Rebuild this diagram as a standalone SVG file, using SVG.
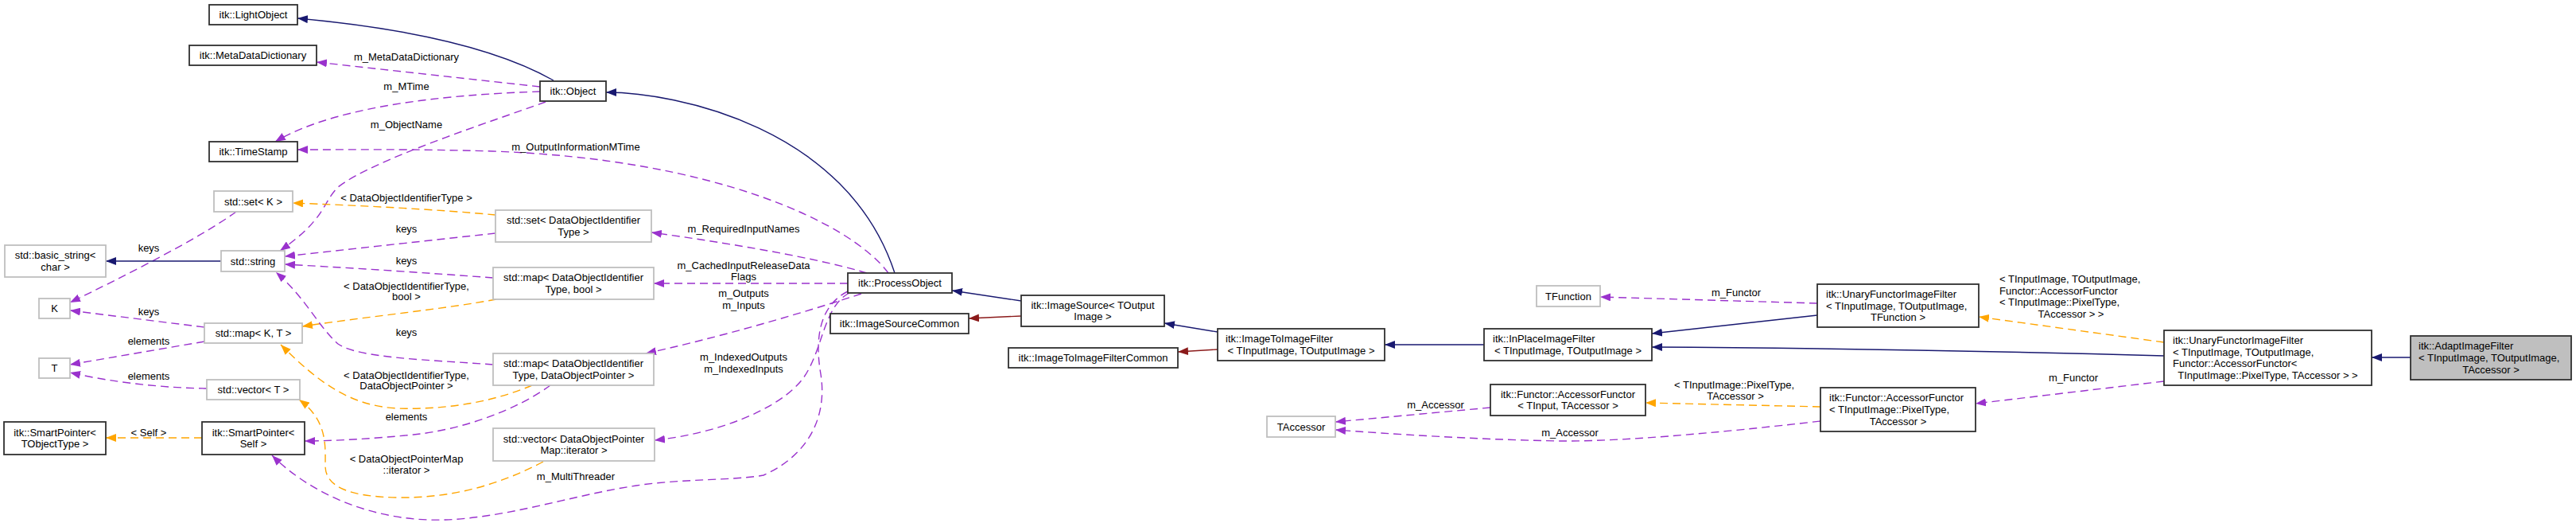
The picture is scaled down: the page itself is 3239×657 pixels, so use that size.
<svg xmlns="http://www.w3.org/2000/svg" width="3239" height="657" viewBox="0 0 3239 657">
<style>
text{font-family:"Liberation Sans",Arial,Helvetica,sans-serif;font-size:13px;fill:#000}
.m{text-anchor:middle}
.s{text-anchor:start}
.b rect{fill:#fff;stroke:#303030;stroke-width:1.8}
.g rect{fill:#fff;stroke:#bfbfbf;stroke-width:1.8}
.sel rect{fill:#bfbfbf;stroke:#303030;stroke-width:1.8}
.c path{fill:none;stroke-width:1.4}
.c .nv{stroke:#191970;marker-end:url(#aN)}
.c .fr{stroke:#8b1a1a;marker-end:url(#aF)}
.c .pu{stroke:#9a32cd;stroke-dasharray:10,6;marker-end:url(#aP)}
.c .or{stroke:#ffa500;stroke-dasharray:10,6;marker-end:url(#aO)}
</style>
<defs>
<marker id="aN" markerUnits="userSpaceOnUse" markerWidth="13" markerHeight="10" refX="13" refY="5" orient="auto"><path d="M0,0 L13,5 L0,10 z" fill="#191970"/></marker>
<marker id="aF" markerUnits="userSpaceOnUse" markerWidth="13" markerHeight="10" refX="13" refY="5" orient="auto"><path d="M0,0 L13,5 L0,10 z" fill="#8b1a1a"/></marker>
<marker id="aP" markerUnits="userSpaceOnUse" markerWidth="13" markerHeight="10" refX="13" refY="5" orient="auto"><path d="M0,0 L13,5 L0,10 z" fill="#9a32cd"/></marker>
<marker id="aO" markerUnits="userSpaceOnUse" markerWidth="13" markerHeight="10" refX="13" refY="5" orient="auto"><path d="M0,0 L13,5 L0,10 z" fill="#ffa500"/></marker>
</defs>
<rect width="3239" height="657" fill="#fff"/>

<g id="connectors" class="c">
<path class="nv" d="M696,101 C650,75 560,40 374,23"/>
<path class="pu" d="M679,109 L398,78"/>
<path class="pu" d="M679,115 C590,118 430,128 346,178"/>
<path class="pu" d="M686,128 C620,152 470,200 425,235 C405,255 410,275 352,315"/>
<path class="pu" d="M1117,343 C1070,280 900,200 620,190 C520,187 450,188 374,188"/>
<path class="pu" d="M1090,343 C1040,328 950,310 819,292"/>
<path class="pu" d="M1066,356 L822,356"/>
<path class="pu" d="M1083,369 C1040,383 930,418 812,444"/>
<path class="pu" d="M1068,368 C1035,385 1035,440 1010,475 C980,515 900,545 823,553"/>
<path class="pu" d="M1066,366 C1028,385 1025,430 1032,470 C1040,520 1020,570 960,597 C920,604 860,601 800,610 C720,622 640,650 560,653 C470,656 390,620 342,572"/>
<path class="or" d="M623,270 C550,263 450,258 368,255"/>
<path class="pu" d="M623,293 L358,322"/>
<path class="pu" d="M297,266 C250,300 150,350 88,380"/>
<path class="nv" d="M278,328 L133,328"/>
<path class="pu" d="M620,349 C540,343 450,337 358,332"/>
<path class="or" d="M624,376 C560,388 460,398 380,410"/>
<path class="pu" d="M257,411 L88,390"/>
<path class="pu" d="M257,429 L88,458"/>
<path class="pu" d="M260,488 C200,487 140,480 88,468"/>
<path class="or" d="M254,550 L133,550"/>
<path class="pu" d="M620,458 C540,452 450,450 425,432 C400,410 385,375 347,342"/>
<path class="or" d="M669,484 C620,505 560,515 500,513 C440,510 400,480 353,433"/>
<path class="pu" d="M692,484 C650,515 580,540 520,546 C470,551 420,554 383,554"/>
<path class="or" d="M683,580 C630,608 570,626 500,625 C440,624 409,612 409,585 C409,560 412,528 376,502"/>
<path class="nv" d="M1125,343 C1065,160 850,116 762,116"/>
<path class="nv" d="M1284,378 L1197,365"/>
<path class="fr" d="M1284,397 L1218,400"/>
<path class="nv" d="M1531,417 L1464,406"/>
<path class="fr" d="M1531,439 L1481,442"/>
<path class="nv" d="M1866,433 L1741,433"/>
<path class="nv" d="M2285,396 L2077,419"/>
<path class="nv" d="M2721,447 C2500,441 2300,437 2077,436"/>
<path class="pu" d="M2285,381 L2012,373"/>
<path class="or" d="M2721,430 L2488,398"/>
<path class="pu" d="M2721,479 L2484,507"/>
<path class="or" d="M2289,511 L2069,506"/>
<path class="pu" d="M1874,512 L1679,530"/>
<path class="pu" d="M2289,529 C2150,545 2030,555 1960,554 C1850,552 1750,545 1679,540"/>
<path class="nv" d="M3031,449 L2982,449"/>
</g>

<g id="edge-labels">
<text class="m" x="511" y="75.5">m_MetaDataDictionary</text>
<text class="m" x="511" y="112.5">m_MTime</text>
<text class="m" x="511" y="160.5">m_ObjectName</text>
<text class="m" x="724" y="188.5">m_OutputInformationMTime</text>
<text class="m" x="511" y="252.5">&lt; DataObjectIdentifierType &gt;</text>
<text class="m" x="511" y="291.5">keys</text>
<text class="m" x="935" y="291.5">m_RequiredInputNames</text>
<text class="m" x="187" y="315.5">keys</text>
<text class="m" x="511" y="331.5">keys</text>
<text class="m" x="935" y="337.5">m_CachedInputReleaseData</text>
<text class="m" x="935" y="352">Flags</text>
<text class="m" x="511" y="363.5">&lt; DataObjectIdentifierType,</text>
<text class="m" x="511" y="377">bool &gt;</text>
<text class="m" x="935" y="372.5">m_Outputs</text>
<text class="m" x="935" y="387.5">m_Inputs</text>
<text class="m" x="187" y="395.5">keys</text>
<text class="m" x="511" y="421.5">keys</text>
<text class="m" x="187" y="432.5">elements</text>
<text class="m" x="935" y="452.5">m_IndexedOutputs</text>
<text class="m" x="935" y="467.5">m_IndexedInputs</text>
<text class="m" x="511" y="475.5">&lt; DataObjectIdentifierType,</text>
<text class="m" x="511" y="489">DataObjectPointer &gt;</text>
<text class="m" x="187" y="476.5">elements</text>
<text class="m" x="511" y="527.5">elements</text>
<text class="m" x="187" y="547.5">&lt; Self &gt;</text>
<text class="m" x="511" y="580.5">&lt; DataObjectPointerMap</text>
<text class="m" x="511" y="595">::iterator &gt;</text>
<text class="m" x="724" y="602.5">m_MultiThreader</text>
<text class="m" x="2183" y="371.5">m_Functor</text>
<text class="s" x="2105" y="487.5">&lt; TInputImage::PixelType,</text>
<text class="m" x="2182" y="502">TAccessor &gt;</text>
<text class="m" x="1805" y="512.5">m_Accessor</text>
<text class="m" x="1974" y="547.5">m_Accessor</text>
<text class="s" x="2514" y="355">&lt; TInputImage, TOutputImage,</text>
<text class="s" x="2514" y="369.5">Functor::AccessorFunctor</text>
<text class="s" x="2514" y="384">&lt; TInputImage::PixelType,</text>
<text class="m" x="2604" y="398.5"> TAccessor &gt; &gt;</text>
<text class="m" x="2607" y="478.5">m_Functor</text>
</g>

<g id="n-lightobject" class="b"><rect x="263" y="6" width="111" height="25"/><text class="m" x="318.5" y="23">itk::LightObject</text></g>
<g id="n-metadatadictionary" class="b"><rect x="238" y="57" width="160" height="25"/><text class="m" x="318" y="74">itk::MetaDataDictionary</text></g>
<g id="n-object" class="b"><rect x="679" y="102" width="83" height="25"/><text class="m" x="720.5" y="119">itk::Object</text></g>
<g id="n-timestamp" class="b"><rect x="263" y="178" width="111" height="25"/><text class="m" x="318.5" y="195">itk::TimeStamp</text></g>
<g id="n-set-k" class="g"><rect x="269" y="240" width="99" height="26"/><text class="m" x="318.5" y="257.5">std::set&lt; K &gt;</text></g>
<g id="n-basic-string" class="g"><rect x="6" y="308" width="127" height="40"/><text class="m" x="69.5" y="325.2">std::basic_string&lt;</text><text class="m" x="69.5" y="339.8">char &gt;</text></g>
<g id="n-string" class="g"><rect x="278" y="315" width="80" height="26"/><text class="m" x="318" y="332.5">std::string</text></g>
<g id="n-k" class="g"><rect x="49" y="375" width="39" height="25"/><text class="m" x="68.5" y="392">K</text></g>
<g id="n-t" class="g"><rect x="49" y="450" width="39" height="25"/><text class="m" x="68.5" y="467">T</text></g>
<g id="n-map-kt" class="g"><rect x="257" y="406" width="123" height="25"/><text class="m" x="318.5" y="423">std::map&lt; K, T &gt;</text></g>
<g id="n-vector-t" class="g"><rect x="260" y="477" width="117" height="25"/><text class="m" x="318.5" y="494">std::vector&lt; T &gt;</text></g>
<g id="n-smartpointer-tobjecttype" class="b"><rect x="5" y="530" width="128" height="41"/><text class="m" x="69" y="547.7">itk::SmartPointer&lt;</text><text class="m" x="69" y="562.3">TObjectType &gt;</text></g>
<g id="n-smartpointer-self" class="b"><rect x="254" y="530" width="129" height="41"/><text class="m" x="318.5" y="547.7">itk::SmartPointer&lt;</text><text class="m" x="318.5" y="562.3">Self &gt;</text></g>
<g id="n-set-doit" class="g"><rect x="623" y="264" width="196" height="40"/><text class="m" x="721" y="281.2">std::set&lt; DataObjectIdentifier</text><text class="m" x="721" y="295.8">Type &gt;</text></g>
<g id="n-map-bool" class="g"><rect x="620" y="336" width="202" height="40"/><text class="m" x="721" y="353.2">std::map&lt; DataObjectIdentifier</text><text class="m" x="721" y="367.8">Type, bool &gt;</text></g>
<g id="n-map-dop" class="g"><rect x="620" y="444" width="202" height="40"/><text class="m" x="721" y="461.2">std::map&lt; DataObjectIdentifier</text><text class="m" x="721" y="475.8">Type, DataObjectPointer &gt;</text></g>
<g id="n-vector-iter" class="g"><rect x="620" y="538" width="203" height="41"/><text class="m" x="721.5" y="555.7">std::vector&lt; DataObjectPointer</text><text class="m" x="721.5" y="570.3">Map::iterator &gt;</text></g>
<g id="n-processobject" class="b"><rect x="1066" y="343" width="131" height="25"/><text class="m" x="1131.5" y="360">itk::ProcessObject</text></g>
<g id="n-imagesourcecommon" class="b"><rect x="1044" y="394" width="174" height="25"/><text class="m" x="1131" y="411">itk::ImageSourceCommon</text></g>
<g id="n-imagesource" class="b"><rect x="1284" y="371" width="180" height="39"/><text class="m" x="1374" y="387.7">itk::ImageSource&lt; TOutput</text><text class="m" x="1374" y="402.3">Image &gt;</text></g>
<g id="n-imagetoimagefiltercommon" class="b"><rect x="1268" y="437" width="213" height="25"/><text class="m" x="1374.5" y="454">itk::ImageToImageFilterCommon</text></g>
<g id="n-imagetoimagefilter" class="b"><rect x="1531" y="413" width="210" height="40"/><text class="s" x="1541" y="430.2">itk::ImageToImageFilter</text><text class="m" x="1636" y="444.8">&lt; TInputImage, TOutputImage &gt;</text></g>
<g id="n-inplaceimagefilter" class="b"><rect x="1866" y="413" width="211" height="40"/><text class="s" x="1877" y="430.2">itk::InPlaceImageFilter</text><text class="m" x="1971.5" y="444.8">&lt; TInputImage, TOutputImage &gt;</text></g>
<g id="n-tfunction" class="g"><rect x="1932" y="359" width="80" height="26"/><text class="m" x="1972" y="376.5">TFunction</text></g>
<g id="n-unaryfunctor-tfunction" class="b"><rect x="2285" y="357" width="203" height="54"/><text class="s" x="2296" y="373.9">itk::UnaryFunctorImageFilter</text><text class="s" x="2296" y="388.5">&lt; TInputImage, TOutputImage,</text><text class="m" x="2386.5" y="403.1">TFunction &gt;</text></g>
<g id="n-taccessor" class="g"><rect x="1593" y="523" width="86" height="26"/><text class="m" x="1636" y="540.5">TAccessor</text></g>
<g id="n-accessorfunctor-tinput" class="b"><rect x="1874" y="483" width="195" height="39"/><text class="m" x="1971.5" y="499.7">itk::Functor::AccessorFunctor</text><text class="m" x="1971.5" y="514.3">&lt; TInput, TAccessor &gt;</text></g>
<g id="n-accessorfunctor-pixeltype" class="b"><rect x="2289" y="487" width="195" height="55"/><text class="s" x="2300" y="504.4">itk::Functor::AccessorFunctor</text><text class="s" x="2300" y="519">&lt; TInputImage::PixelType,</text><text class="m" x="2386.5" y="533.6">TAccessor &gt;</text></g>
<g id="n-unaryfunctor-accessor" class="b"><rect x="2721" y="415" width="261" height="69"/><text class="s" x="2732" y="432.1">itk::UnaryFunctorImageFilter</text><text class="s" x="2732" y="446.7">&lt; TInputImage, TOutputImage,</text><text class="s" x="2732" y="461.3"> Functor::AccessorFunctor&lt;</text><text class="m" x="2851.5" y="475.9"> TInputImage::PixelType, TAccessor &gt; &gt;</text></g>
<g id="n-adaptimagefilter" class="sel"><rect x="3031" y="422" width="202" height="55"/><text class="s" x="3041" y="439.4">itk::AdaptImageFilter</text><text class="s" x="3041" y="454">&lt; TInputImage, TOutputImage,</text><text class="m" x="3132" y="468.6">TAccessor &gt;</text></g>
</svg>
